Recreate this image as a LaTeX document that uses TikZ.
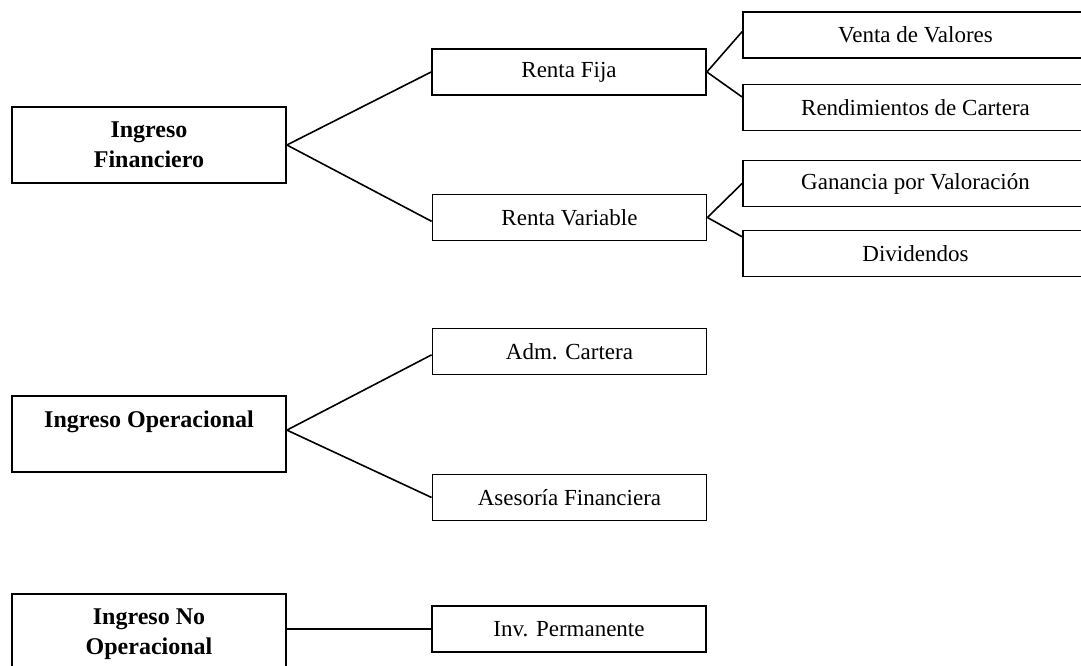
\documentclass[tikz,border=0pt]{standalone}
\usepackage{fontspec}
\setmainfont{Liberation Serif}
\usepackage{tikz}
\usetikzlibrary{calc}

\begin{document}
\begin{tikzpicture}[x=1pt, y=-1pt, line width=1.6pt,
        box/.style={rectangle, draw, line width=1.8pt, inner sep=0pt, minimum height=46pt, font=\fontsize{23}{28}\selectfont},
        mid/.style={box, minimum width=274pt},
        leaf/.style={box, minimum width=345pt},
        root/.style={box, minimum width=274pt, minimum height=76pt, align=center, font=\fontsize{24}{30}\selectfont\bfseries}]
        \useasboundingbox (0,0) rectangle (1081,666);
        \clip (0,0) rectangle (1081,666);
        % ingreso financiero
        \node (fin) [root] at (149,145) {Ingreso\\Financiero};
        \node (fija) [mid] at (569,72) {Renta Fija};
        \node (var) [mid] at (569.5,217.5) {Renta Variable};
        \node (venta) [leaf] at (915.5,35) {Venta de Valores};
        \node (rend) [leaf] at (915.5,107.5) {Rendimientos de Cartera};
        \node (gan) [leaf] at (915.5,183.5) {Ganancia por Valoración};
        \node (div) [leaf] at (915.5,253.5) {Dividendos};
        \draw (fin.east) -- (fija.west);
        \draw (fin.east) -- ($(var.north west)!0.58!(var.south west)$);
        \draw (fija.east) -- ($(venta.north west)!0.43!(venta.south west)$);
        \draw (fija.east) -- ($(rend.north west)!0.28!(rend.south west)$);
        \draw (var.east) -- (gan.west);
        \draw (var.east) -- ($(div.north west)!0.15!(div.south west)$);
        % ingreso operacional
        \node (oper) [root] at (149,434) {Ingreso Operacional\\ \mbox{}};
        \node (adm) [mid] at (569.5,351.5) {Adm. Cartera};
        \node (ases) [mid] at (569.5,497.5) {Asesoría Financiera};
        \draw ($(oper.north east)!0.45!(oper.south east)$) -- ($(adm.north west)!0.57!(adm.south west)$);
        \draw ($(oper.north east)!0.45!(oper.south east)$) -- (ases.west);
        % ingreso no operacional
        \node (noop) [root, minimum height=80pt] at (149,634) {Ingreso No\\Operacional};
        \node (inv) [mid] at (569,629) {Inv. Permanente};
        \draw (noop.east |- inv.west) -- (inv.west);
    \end{tikzpicture}
\end{document}
